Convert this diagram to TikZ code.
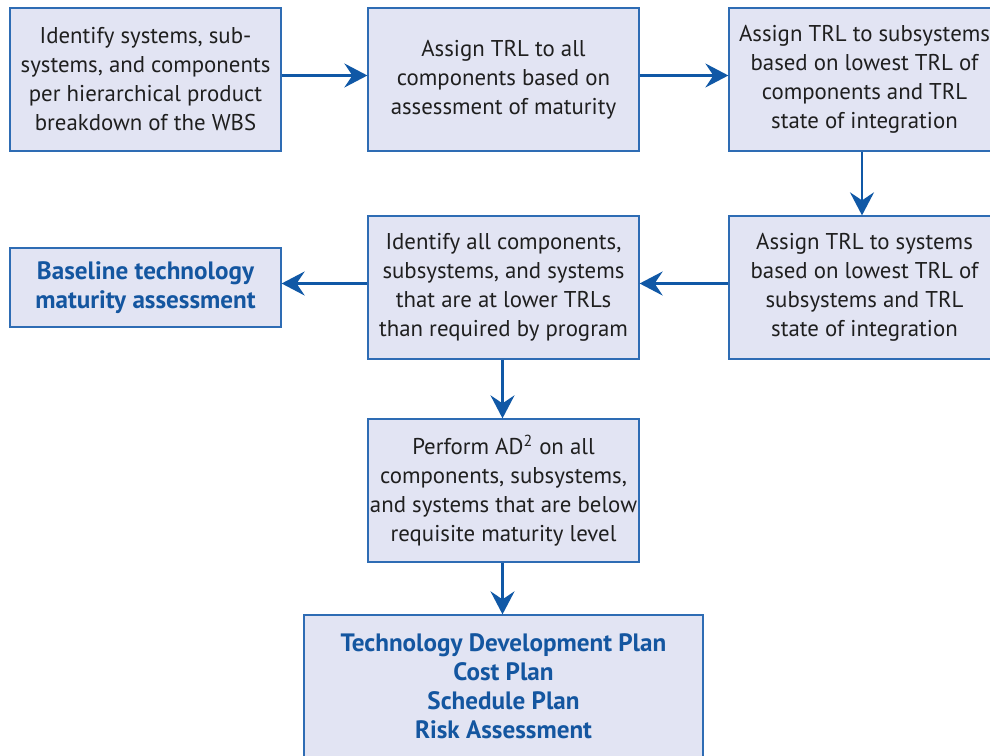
\documentclass[tikz,border=0pt]{standalone}
\usepackage{fontspec}
\setmainfont{PT Sans}
\usepackage{tikz}
\usetikzlibrary{arrows.meta,positioning}
\definecolor{boxfill}{RGB}{226,228,243}
\definecolor{boxedge}{RGB}{46,108,180}
\definecolor{flowblue}{RGB}{16,88,166}
\definecolor{headblue}{RGB}{20,86,160}

\begin{document}
\begin{tikzpicture}[x=0.02cm,y=-0.02cm,
		stepbox/.style={draw=boxedge,fill=boxfill,line width=0.75pt,
			minimum width=5.42cm,minimum height=2.86cm,align=center,
			font=\fontsize{13}{16.5}\selectfont,text=black!88,inner sep=0pt},
		outbox/.style={stepbox,font=\bfseries\fontsize{14.3}{16.5}\selectfont,text=headblue},
		flow/.style={-{Stealth[length=4.6mm,width=4.8mm,inset=1.6mm]},flowblue,line width=1.2pt}]
	\clip (0,0) rectangle (990,756);
	\fill[white] (0,0) rectangle (990,756);
	
	% top row
	\node[stepbox] (ident) at (145.5,79.5) {Identify systems, sub-\\systems, and components\\per hierarchical product\\breakdown of the WBS};
	\node[stepbox] (comps) at (503.5,79.5) {Assign TRL to all\\components based on\\assessment of maturity};
	\node[stepbox] (subsys) at (864.5,79.5) {Assign TRL to subsystems\\based on lowest TRL of\\components and TRL\\state of integration};
	
	% middle row
	\node[stepbox] (sys) at (864.5,287.5) {Assign TRL to systems\\based on lowest TRL of\\subsystems and TRL\\state of integration};
	\node[stepbox] (lower) at (503.5,287.5) {Identify all components,\\subsystems, and systems\\that are at lower TRLs\\than required by program};
	\node[outbox,minimum height=1.58cm] (base) at (145.5,287.5) {Baseline technology\\maturity assessment};
	
	% lower part
	\node[stepbox] (ad2) at (503.5,490.5) {Perform AD\textsuperscript{2} on all\\components, subsystems,\\and systems that are below\\requisite maturity level};
	\node[outbox,minimum width=7.98cm] (plans) at (503.5,686.5) {Technology Development Plan\\Cost Plan\\Schedule Plan\\Risk Assessment};
	
	\draw[flow] ([yshift=0.08cm]ident.east) -- ([yshift=0.08cm]comps.west);
	\draw[flow] ([yshift=0.08cm]comps.east) -- ([yshift=0.08cm]subsys.west);
	\draw[flow] ([xshift=-0.05cm]subsys.south) -- ([xshift=-0.05cm]sys.north);
	\draw[flow] ([yshift=0.08cm]sys.west) -- ([yshift=0.08cm]lower.east);
	\draw[flow] ([yshift=0.08cm]lower.west) -- ([yshift=0.08cm]base.east);
	\draw[flow] ([xshift=-0.02cm]lower.south) -- ([xshift=-0.02cm]ad2.north);
	\draw[flow] ([xshift=-0.02cm]ad2.south) -- ([xshift=-0.02cm]plans.north);
\end{tikzpicture}
\end{document}
